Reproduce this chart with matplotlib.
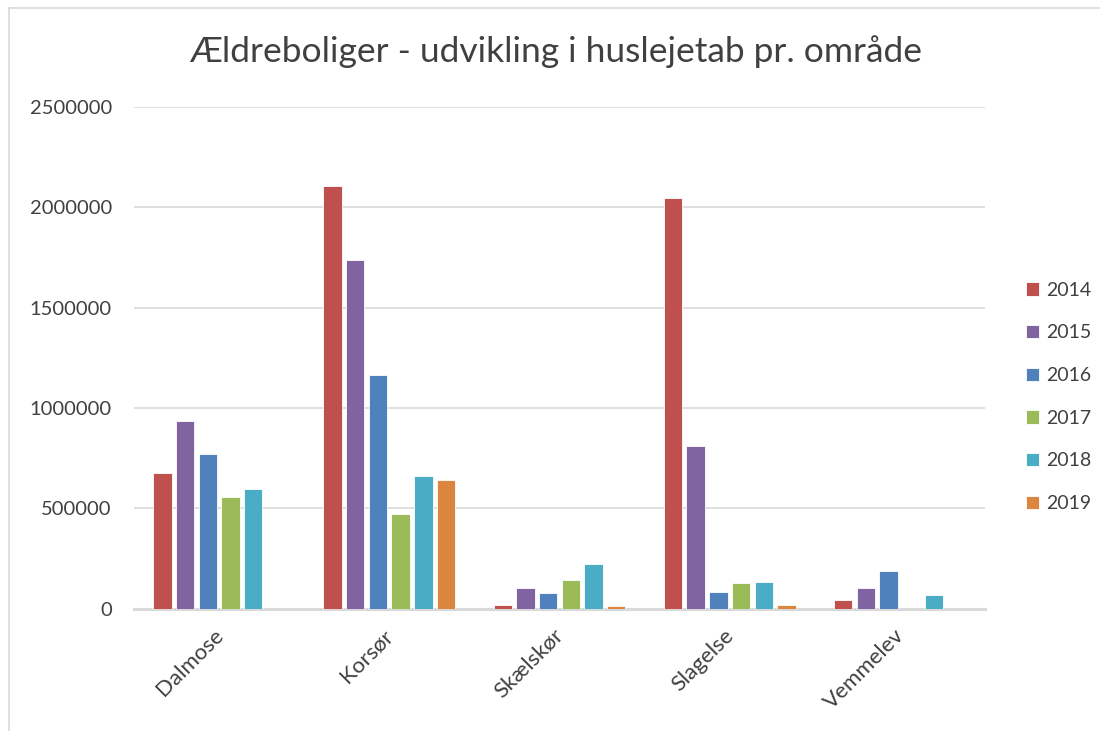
import numpy as np
import matplotlib
matplotlib.use("Agg")
import matplotlib.pyplot as plt
from matplotlib.lines import Line2D
import matplotlib.transforms as mtransforms

categories = ["Dalmose", "Korsør", "Skælskør", "Slagelse", "Vemmelev"]
years = ["2014", "2015", "2016", "2017", "2018", "2019"]
v2014 = [675000, 2105000, 20000, 2045000, 42000]
v2015 = [935000, 1740000, 101000, 810000, 105000]
v2016 = [772000, 1165000, 76000, 81000, 186000]
v2017 = [557000, 473000, 145000, 126000, np.nan]
v2018 = [597000, 662000, 221000, 131000, 66000]
v2019 = [np.nan, 642000, 12000, 17000, np.nan]
series = [v2014, v2015, v2016, v2017, v2018, v2019]
colors = ["#C0504D", "#8064A2", "#4F81BD", "#9BBB59", "#4BACC6", "#DC853E"]
yticks = [0, 500000, 1000000, 1500000, 2000000, 2500000]

plt.rcParams['font.family'] = ['Lato', 'DejaVu Sans']
textc = "#404040"

fig = plt.figure(figsize=(11, 7.31), dpi=100)
ax = fig.add_axes([134/1100, 1-608.7/731, (985-134)/1100, (608.7-107)/731])

x = np.arange(len(categories))
slot = 0.1334
w = 0.108
for i, (vals, c) in enumerate(zip(series, colors)):
    off = (i - 2.5) * slot
    ax.bar(x + off, vals, width=w, color=c, label=years[i], edgecolor='white', linewidth=0.6, zorder=3)

ax.set_xlim(-0.5, len(categories) - 0.5)
ax.set_ylim(0, 2500000)
ax.set_yticks(yticks)
ax.set_yticklabels([str(t) for t in yticks], fontsize=14.5, color=textc)
ax.grid(axis='y', color='#d9d9d9', linewidth=1.2, zorder=0)
ax.set_axisbelow(True)
for s in ['top', 'right', 'left']:
    ax.spines[s].set_visible(False)
ax.spines['bottom'].set_color('#d9d9d9')
ax.spines['bottom'].set_linewidth(2.2)
ax.tick_params(axis='y', length=0, pad=16)
ax.tick_params(axis='x', length=0, pad=12)
ax.set_xticks(x)
ax.set_xticklabels(categories, rotation=45, ha='right', va='top', fontsize=16, color=textc)
shift = mtransforms.ScaledTranslation(8/100, 0, fig.dpi_scale_trans)
for lab in ax.get_xticklabels():
    lab.set_transform(lab.get_transform() + shift)

fig.text(0.505, 1-52/731, "Ældreboliger - udvikling i huslejetab pr. område",
         ha='center', va='center', fontsize=25.5, color=textc)

leg = fig.legend(loc='center left', bbox_to_anchor=(1016/1100, 1-397/731), frameon=False,
                 fontsize=14, handlelength=0.7, handleheight=0.7, labelspacing=1.32,
                 handletextpad=0.35, borderpad=0)
for t in leg.get_texts():
    t.set_color(textc)

fig.add_artist(Line2D([9/1100, 9/1100], [0, 1-8/731], transform=fig.transFigure, color='#d9d9d9', linewidth=1.2))
fig.add_artist(Line2D([9/1100, 1], [1-8/731, 1-8/731], transform=fig.transFigure, color='#d9d9d9', linewidth=1.2))

fig.savefig("out.png", dpi=100)
